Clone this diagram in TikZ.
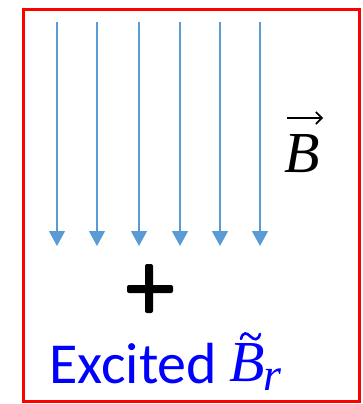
\documentclass[tikz,border=0pt]{standalone}
\usepackage{fontspec}
\setmainfont{Carlito}
\newfontfamily\mathserif{Liberation Serif}
\usetikzlibrary{arrows.meta}
\definecolor{fieldblue}{HTML}{5B9BD5}
\definecolor{framered}{HTML}{FF0000}
\definecolor{textblue}{HTML}{0000FF}
\tikzset{
  fieldline/.style={draw=fieldblue, line width=1.1pt, -{Triangle[width=16pt,length=15pt]}},
  frame/.style={draw=framered, line width=3pt},
  plusbar/.style={fill=black, rounded corners=2pt},
  mathtext/.style={inner sep=0pt, font=\mathserif\itshape\fontsize{58}{60}\selectfont},
}
\begin{document}
\begin{tikzpicture}[x=1pt,y=-1pt]
\useasboundingbox (0,0) rectangle (362,404);
\draw[frame] (23.5,9.5) rectangle (359.5,401.5);
\foreach \i/\x in {1/57,2/97,3/139,4/180,5/220,6/260}{
  \coordinate (t\i) at (\x,22);
  \coordinate (b\i) at (\x,246);
  \draw[fieldline] (t\i) -- (b\i);
}
% vector B
\node[mathtext, anchor=base] (bvec) at (302,172) {B};
\coordinate (va) at (287,118);
\coordinate (vb) at (323,118);
\draw[line width=1.6pt, -{Straight Barb[length=6pt,width=12pt]}] (va) -- (vb);
% plus
\fill[plusbar] (127,285) rectangle (173,293);
\fill[plusbar] (145,264) rectangle (153,313);
% Excited B~_r
\node[anchor=base west, inner sep=0pt, text=textblue, font=\fontsize{58}{60}\selectfont] (exc) at (49,383) {Excited};
\node[mathtext, anchor=base west, text=textblue] (br) at (229,381) {B\kern-1pt\raisebox{-9pt}{\fontsize{46}{46}\selectfont r}};
\coordinate (ta) at (241,339);
\coordinate (tb) at (260,334);
\draw[textblue, line width=2.6pt, line cap=round] (ta) .. controls (243,331) and (247,333) .. (250.5,336.5) .. controls (254,340) and (258,341) .. (tb);
\end{tikzpicture}
\end{document}
